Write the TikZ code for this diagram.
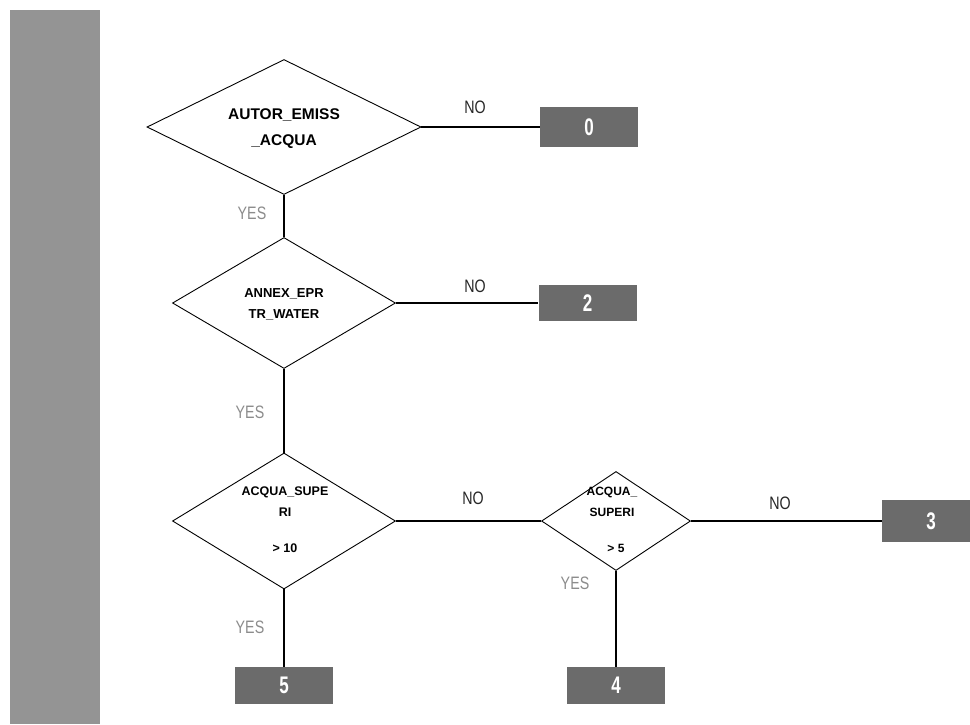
\documentclass[tikz,border=0pt]{standalone}
\usepackage{fontspec}
\setmainfont{Liberation Sans}
\usetikzlibrary{shapes.geometric}
\definecolor{bargray}{gray}{0.58}
\definecolor{boxgray}{gray}{0.42}
\definecolor{yesgray}{gray}{0.55}
\definecolor{nogray}{gray}{0.15}
\newcommand\outdigit[1]{\scalebox{0.85}[1.2]{#1}}
\newcommand\tallword[1]{\scalebox{0.95}[1.2]{#1}}
\begin{document}
\begin{tikzpicture}[x=1pt,y=-1pt,
  dec/.style={draw=black,line width=0.9pt,shape=diamond,inner sep=0pt},
  outbox/.style={fill=boxgray,draw=none,inner sep=0pt,minimum width=98pt,text=white,font=\fontsize{20}{20}\selectfont\bfseries},
  yeslbl/.style={text=yesgray,font=\fontsize{15}{15}\selectfont,inner sep=0pt},
  nolbl/.style={text=nogray,font=\fontsize{15}{15}\selectfont,inner sep=0pt},
  dtext/.style={inner sep=0pt,font=\bfseries},
  conn/.style={line width=1.1pt,draw=black}]
\useasboundingbox (0,0) rectangle (970,724);
\clip (0,0) rectangle (970,724);
\fill[white] (0,0) rectangle (970,724);
% left bar
\fill[bargray] (10,10) rectangle (100,724);
% decisions
\node[dec,minimum width=274pt,minimum height=135pt] (d1) at (284,127) {};
\node[dec,minimum width=223pt,minimum height=131pt] (d2) at (284,303) {};
\node[dec,minimum width=223pt,minimum height=136pt] (d3) at (284,521) {};
\node[dec,minimum width=149pt,minimum height=99pt] (d4) at (616,521) {};
% decision texts
\node[dtext,font=\fontsize{15.5}{16}\selectfont\bfseries] (t1a) at (284,115) {AUTOR\_EMISS};
\node[dtext,font=\fontsize{15.5}{16}\selectfont\bfseries] (t1b) at (284,142) {\_ACQUA};
\node[dtext,font=\fontsize{13}{14}\selectfont\bfseries] (t2a) at (284,294) {ANNEX\_EPR};
\node[dtext,font=\fontsize{13}{14}\selectfont\bfseries] (t2b) at (284,315) {TR\_WATER};
\node[dtext,font=\fontsize{12.5}{13}\selectfont\bfseries] (t3a) at (285,492) {ACQUA\_SUPE};
\node[dtext,font=\fontsize{12.5}{13}\selectfont\bfseries] (t3b) at (285,512) {RI};
\node[dtext,font=\fontsize{12.5}{13}\selectfont\bfseries] (t3c) at (285,548) {> 10};
\node[dtext,font=\fontsize{12}{13}\selectfont\bfseries] (t4a) at (612,492) {ACQUA\_};
\node[dtext,font=\fontsize{12}{13}\selectfont\bfseries] (t4b) at (612,512) {SUPERI};
\node[dtext,font=\fontsize{12}{13}\selectfont\bfseries] (t4c) at (616,548) {> 5};
% outcome boxes
\node[outbox,minimum height=40pt] (b0) at (589,127) {\outdigit{0}};
\node[outbox,minimum height=36pt] (b2) at (587.5,303) {\outdigit{2}};
\node[outbox,minimum height=42pt] (b3) at (931,521) {\outdigit{3}};
\node[outbox,minimum height=37pt] (b5) at (284,685.5) {\outdigit{5}};
\node[outbox,minimum height=37pt] (b4) at (616,685.5) {\outdigit{4}};
% connectors
\draw[conn] (d1.east) -- (b0.west);
\draw[conn] (d1.south) -- (d2.north);
\draw[conn] (d2.east) -- (b2.west);
\draw[conn] (d2.south) -- (d3.north);
\draw[conn] (d3.east) -- (d4.west);
\draw[conn] (d4.east) -- (b3.west);
\draw[conn] (d3.south) -- (b5.north);
\draw[conn] (d4.south) -- (b4.north);
% labels
\node[nolbl] (n1) at (475,107) {\tallword{NO}};
\node[nolbl] (n2) at (475,286) {\tallword{NO}};
\node[nolbl] (n3) at (473,498) {\tallword{NO}};
\node[nolbl] (n4) at (780,503) {\tallword{NO}};
\node[yeslbl] (y1) at (252,213) {\tallword{YES}};
\node[yeslbl] (y2) at (250,412) {\tallword{YES}};
\node[yeslbl] (y3) at (250,627) {\tallword{YES}};
\node[yeslbl] (y4) at (575,583) {\tallword{YES}};
\end{tikzpicture}
\end{document}
